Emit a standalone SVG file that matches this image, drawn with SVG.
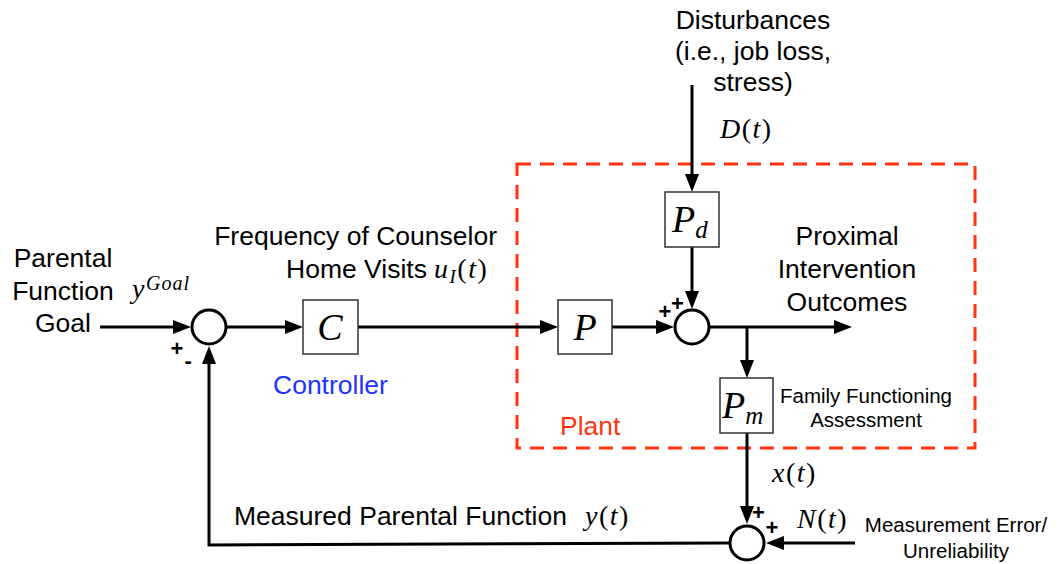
<svg xmlns="http://www.w3.org/2000/svg" width="1057" height="564" viewBox="0 0 1057 564">
<defs>
<style>
.lbl{font-family:"Liberation Sans",Arial,sans-serif;font-size:26.5px;fill:#000}
.sm{font-family:"Liberation Sans",Arial,sans-serif;font-size:20.5px;fill:#000}
.m{font-family:"Liberation Serif","Times New Roman",serif;font-style:italic;font-size:28px;letter-spacing:1.5px;fill:#000}
.mr{font-style:normal}
.big{font-family:"Liberation Serif","Times New Roman",serif;font-style:italic;font-size:38px;fill:#000}
.sgn{font-family:"Liberation Sans",Arial,sans-serif;font-size:22px;font-weight:bold;fill:#000}
.box{fill:#fff;stroke:#333;stroke-width:1.5}
.sum{fill:#fff;stroke:#000;stroke-width:3}
.con{fill:none;stroke:#000;stroke-width:3}
.arr{marker-end:url(#ah)}
</style>
<marker id="ah" markerUnits="userSpaceOnUse" markerWidth="18" markerHeight="14" refX="8" refY="7" orient="auto">
<path d="M0,0 L18,7 L0,14 z" fill="#000"/>
</marker>
</defs>
<rect width="1057" height="564" fill="#fff"/>

<g id="plant-region">
<rect x="517" y="164" width="458" height="284" fill="none" stroke="#ff3311" stroke-width="3" stroke-dasharray="14,9"/>
<text class="lbl" x="560" y="435" style="fill:#ff3311">Plant</text>
</g>

<g id="connectors">
<line class="con arr" x1="100" y1="327" x2="181" y2="327"/>
<line class="con arr" x1="227" y1="327" x2="293" y2="327"/>
<line class="con arr" x1="358" y1="327" x2="548" y2="327"/>
<line class="con arr" x1="612" y1="327" x2="664" y2="327"/>
<line class="con arr" x1="692" y1="85" x2="692" y2="182"/>
<line class="con arr" x1="692" y1="247" x2="692" y2="299"/>
<line class="con arr" x1="710" y1="327" x2="842" y2="327"/>
<line class="con arr" x1="747" y1="327" x2="747" y2="368"/>
<line class="con arr" x1="747" y1="433" x2="747" y2="514"/>
<line class="con arr" x1="855" y1="543" x2="776" y2="543"/>
<path class="con arr" d="M729,543 L209,545 L209,356"/>
</g>

<g id="goal-label">
<text class="lbl" x="63" y="267" text-anchor="middle">Parental</text>
<text class="lbl" x="63" y="300" text-anchor="middle">Function</text>
<text class="lbl" x="63" y="332" text-anchor="middle">Goal</text>
<text class="m" x="132" y="298">y</text>
<text class="m" x="146" y="290" style="font-size:20px;letter-spacing:1px">Goal</text>
</g>

<g id="sum1">
<circle class="sum" cx="209" cy="327" r="17"/>
<text class="sgn" x="170.5" y="356">+</text>
<text class="sgn" x="184.5" y="368">-</text>
</g>

<g id="controller">
<rect class="box" x="303" y="300" width="55" height="54"/>
<text class="big" x="330" y="340" text-anchor="middle">C</text>
<text class="lbl" x="273" y="394" style="fill:#2233ff">Controller</text>
</g>

<g id="input-label">
<text class="lbl" x="497" y="245" text-anchor="end">Frequency of Counselor</text>
<text class="lbl" x="286" y="278">Home Visits</text>
<text class="m" x="434" y="278">u<tspan style="font-size:19px" dy="5">I</tspan><tspan class="mr" dy="-5">(</tspan>t<tspan class="mr">)</tspan></text>
</g>

<g id="plant">
<rect class="box" x="558" y="300" width="54" height="54"/>
<text class="big" x="585" y="340" text-anchor="middle">P</text>
</g>

<g id="disturbance">
<text class="lbl" x="753" y="29" text-anchor="middle">Disturbances</text>
<text class="lbl" x="753" y="60" text-anchor="middle">(i.e., job loss,</text>
<text class="lbl" x="753" y="91" text-anchor="middle">stress)</text>
<text class="m" x="720" y="138">D<tspan class="mr">(</tspan>t<tspan class="mr">)</tspan></text>
</g>

<g id="pd">
<rect class="box" x="665" y="192" width="54" height="55"/>
<text class="big" x="672" y="232">P<tspan style="font-size:25px" dy="6">d</tspan></text>
</g>

<g id="sum2">
<circle class="sum" cx="692" cy="327" r="17"/>
<text class="sgn" x="658.5" y="319">+</text>
<text class="sgn" x="671" y="311">+</text>
</g>

<g id="outcome-label">
<text class="lbl" x="847" y="245" text-anchor="middle">Proximal</text>
<text class="lbl" x="847" y="278" text-anchor="middle">Intervention</text>
<text class="lbl" x="847" y="311" text-anchor="middle">Outcomes</text>
</g>

<g id="pm">
<rect class="box" x="720" y="378" width="53" height="55"/>
<text class="big" x="722" y="418">P<tspan style="font-size:25px" dy="6">m</tspan></text>
<text class="sm" x="866" y="403" text-anchor="middle">Family Functioning</text>
<text class="sm" x="866" y="427" text-anchor="middle">Assessment</text>
</g>

<g id="sum3">
<circle class="sum" cx="747" cy="543" r="17"/>
<text class="sgn" x="752" y="520">+</text>
<text class="sgn" x="765.5" y="534.5">+</text>
<text class="m" x="772" y="482">x<tspan class="mr">(</tspan>t<tspan class="mr">)</tspan></text>
<text class="m" x="797" y="528">N<tspan class="mr">(</tspan>t<tspan class="mr">)</tspan></text>
<text class="sm" x="956" y="532" text-anchor="middle">Measurement Error/</text>
<text class="sm" x="956" y="558" text-anchor="middle">Unreliability</text>
</g>

<g id="feedback-label">
<text class="lbl" x="234" y="525">Measured Parental Function</text>
<text class="m" x="585" y="525">y<tspan class="mr">(</tspan>t<tspan class="mr">)</tspan></text>
</g>
</svg>
